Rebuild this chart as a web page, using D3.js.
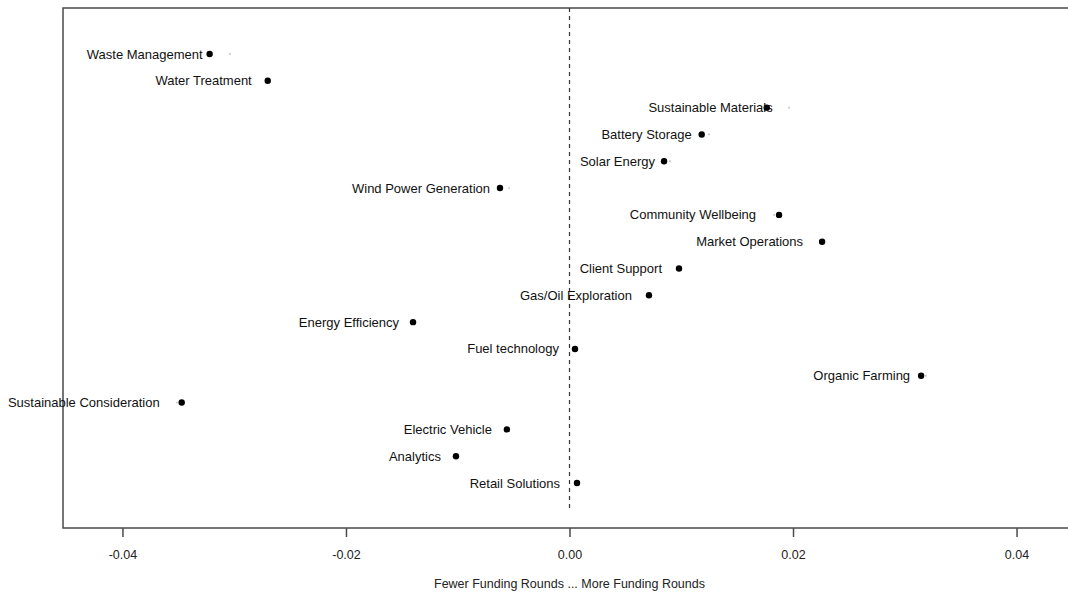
<!DOCTYPE html>
<html><head><meta charset="utf-8">
<script src="https://cdn.jsdelivr.net/npm/d3@7"></script>
<style>body{margin:0;background:#fff}svg{display:block}</style>
</head><body>
<svg id="c" width="1068" height="592"></svg>
<script>
const categories = ["Waste Management","Water Treatment","Sustainable Materials","Battery Storage","Solar Energy","Wind Power Generation","Community Wellbeing","Market Operations","Client Support","Gas/Oil Exploration","Energy Efficiency","Fuel technology","Organic Farming","Sustainable Consideration","Electric Vehicle","Analytics","Retail Solutions"];
const values = [-0.0322,-0.0270,0.01765,0.01183,0.00846,-0.00622,0.01875,0.0226,0.0098,0.00711,-0.0140,0.00049,0.03146,-0.0347,-0.0056,-0.01016,0.00067];
const faintMarks = [-0.03038,null,0.01964,0.01248,0.00899,-0.00541,0.0183,null,null,null,null,null,0.0319,-0.03512,null,null,null];
const xTicks = [-0.04,-0.02,0.00,0.02,0.04];
const xTitle = "Fewer Funding Rounds ... More Funding Rounds";
// label gap (px) between label end and point
const labelGap = [7,16,-6,10,9,10,23,19,17,17,14,16,11,22,15,15,17];

const svg = d3.select("#c");
const L = 63, R = 1076, T = 8, B = 528;
const x = d3.scaleLinear().domain([-0.04532,0.04532]).range([L,R]);
const y = d3.scalePoint().domain(categories).range([54,483]);
const step = y.step();

const axisCol = "#4a4a4a";
const font = "Liberation Sans, Arial, sans-serif";
// frame
svg.append("rect").attr("x",L).attr("y",T).attr("width",R-L).attr("height",B-T)
  .attr("fill","none").attr("stroke",axisCol).attr("stroke-width",1.5);

// zero line
svg.append("line").attr("x1",x(0)).attr("x2",x(0)).attr("y1",T).attr("y2",y(categories[categories.length-1])+step)
  .attr("stroke","#333").attr("stroke-width",1.2).attr("stroke-dasharray","4,4");

// x axis
const ax = svg.append("g").attr("transform",`translate(0,${B})`)
  .call(d3.axisBottom(x).tickValues(xTicks).tickFormat(d=>d.toFixed(2)).tickSize(9).tickPadding(13));
ax.select(".domain").remove();
ax.selectAll(".tick line").attr("stroke",axisCol).attr("stroke-width",1.5);
ax.selectAll(".tick text").attr("font-family",font).attr("font-size",12.5).attr("fill","#222");

svg.append("text").attr("x",(L+R)/2).attr("y",588).attr("text-anchor","middle")
  .attr("font-family",font).attr("font-size",12.5).attr("fill","#222").text(xTitle);

// faint marks
svg.append("g").selectAll("circle").data(categories.map((c,i)=>({c,v:faintMarks[i]})).filter(d=>d.v!==null))
  .join("circle").attr("cx",d=>x(d.v)).attr("cy",d=>y(d.c)).attr("r",0.9).attr("fill","#bbb");

// points
const data = categories.map((c,i)=>({c,v:values[i],g:labelGap[i]}));
svg.append("g").selectAll("circle").data(data).join("circle")
  .attr("cx",d=>x(d.v)).attr("cy",d=>y(d.c)).attr("r",3.2).attr("fill","#000");

svg.append("g").selectAll("text").data(data).join("text")
  .attr("x",d=>x(d.v)-d.g).attr("y",d=>y(d.c)).attr("dy","0.35em").attr("text-anchor","end")
  .attr("font-family",font).attr("font-size",13).attr("fill","#111")
  .text(d=>d.c);
</script>
</body></html>
